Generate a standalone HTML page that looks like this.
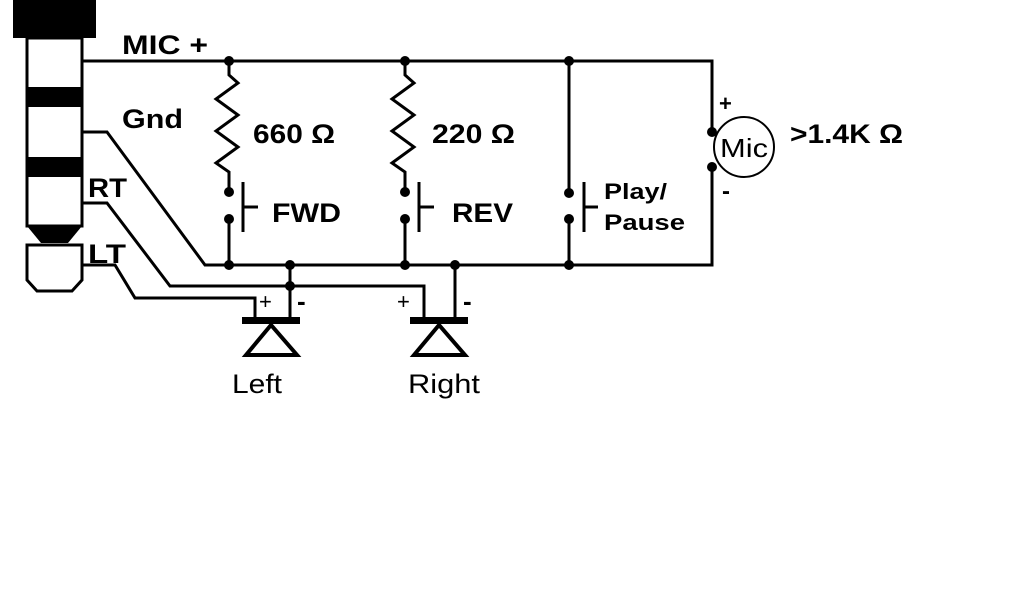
<!DOCTYPE html>
<html><head><style>html,body{margin:0;padding:0;background:#fff;}svg{display:block}</style></head>
<body>
<svg width="1024" height="600" viewBox="0 0 1024 600" xmlns="http://www.w3.org/2000/svg">
<g fill="#000">
<rect x="13" y="0" width="83" height="38"/>
<rect x="27" y="87" width="55" height="20"/>
<rect x="27" y="157" width="55" height="20"/>
<polygon points="27,226 82,226 68,243 41,243"/>
</g>
<g fill="none" stroke="#000" stroke-width="3">
<rect x="27" y="38" width="55" height="188"/>
<polygon points="27,245 82,245 82,280 72,291 37,291 27,280"/>
<path d="M82 61H712V132M712 167V265H205L107 132H82"/>
<path d="M82 203H107L170 286H424V320"/>
<path d="M82 265H115L135 298H255V320"/>
<path d="M290 265V320M455 265V320"/>
<path d="M229 61V75L238 83L216 99L238 115L216 131L238 147L216 163L229 172V192M229 219V265"/>
<path d="M405 61V75L414 83L392 99L414 115L392 131L414 147L392 163L405 172V192M405 219V265"/>
<path d="M569 61V193M569 219V265"/>
<path d="M243 182V232M243 207H258M419 182V232M419 207H434M584 182V232M584 207H598"/>
<circle cx="744" cy="147" r="30" stroke-width="2"/>
</g>
<g fill="#000">
<circle cx="229" cy="61" r="5"/><circle cx="405" cy="61" r="5"/><circle cx="569" cy="61" r="5"/>
<circle cx="229" cy="192" r="5"/><circle cx="229" cy="219" r="5"/>
<circle cx="405" cy="192" r="5"/><circle cx="405" cy="219" r="5"/>
<circle cx="569" cy="193" r="5"/><circle cx="569" cy="219" r="5"/>
<circle cx="229" cy="265" r="5"/><circle cx="290" cy="265" r="5"/><circle cx="405" cy="265" r="5"/><circle cx="455" cy="265" r="5"/><circle cx="569" cy="265" r="5"/>
<circle cx="290" cy="286" r="5"/>
<circle cx="712" cy="132" r="5"/><circle cx="712" cy="167" r="5"/>
<rect x="242" y="317" width="58" height="7"/>
<rect x="410" y="317" width="58" height="7"/>
</g>
<g fill="none" stroke="#000" stroke-width="4" stroke-linejoin="miter">
<polygon points="271,325 246,355 297,355"/>
<polygon points="439,325 414,355 465,355"/>
</g>
<g font-family="Liberation Sans, sans-serif" font-weight="bold" font-size="27" fill="#000">
<text x="122" y="54" textLength="86" lengthAdjust="spacingAndGlyphs">MIC +</text>
<text x="122" y="128" textLength="61" lengthAdjust="spacingAndGlyphs">Gnd</text>
<text x="88" y="197" textLength="39" lengthAdjust="spacingAndGlyphs">RT</text>
<text x="88" y="263" textLength="38" lengthAdjust="spacingAndGlyphs">LT</text>
<text x="253" y="143" textLength="82" lengthAdjust="spacingAndGlyphs">660 Ω</text>
<text x="432" y="143" textLength="83" lengthAdjust="spacingAndGlyphs">220 Ω</text>
<text x="272" y="222" textLength="69" lengthAdjust="spacingAndGlyphs">FWD</text>
<text x="452" y="222" textLength="61" lengthAdjust="spacingAndGlyphs">REV</text>
<text x="790" y="143" textLength="113" lengthAdjust="spacingAndGlyphs">&gt;1.4K Ω</text>
<text x="604" y="199" font-size="22" textLength="63" lengthAdjust="spacingAndGlyphs">Play/</text>
<text x="604" y="230" font-size="22" textLength="81" lengthAdjust="spacingAndGlyphs">Pause</text>
<text x="719" y="111" font-size="22">+</text>
<text x="722" y="199" font-size="24">-</text>
</g>
<g font-family="Liberation Sans, sans-serif" font-size="27" fill="#000">
<text x="720" y="157" font-size="26" textLength="48" lengthAdjust="spacingAndGlyphs">Mic</text>
<text x="232" y="393" textLength="50" lengthAdjust="spacingAndGlyphs">Left</text>
<text x="408" y="393" textLength="72" lengthAdjust="spacingAndGlyphs">Right</text>
<text x="259" y="309" font-size="22">+</text>
<text x="297" y="310" font-size="26" font-weight="bold">-</text>
<text x="397" y="309" font-size="22">+</text>
<text x="463" y="310" font-size="26" font-weight="bold">-</text>
</g>
</svg>
</body></html>
